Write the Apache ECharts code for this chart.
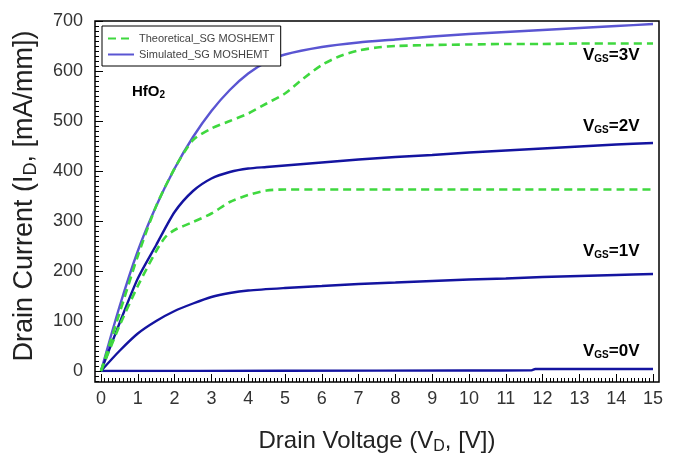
<!DOCTYPE html>
<html><head><meta charset="utf-8">
<script src="https://cdn.jsdelivr.net/npm/echarts@6/dist/echarts.min.js"></script>
<style>html,body{margin:0;padding:0;background:#fff}#c{width:675px;height:458px}</style>
</head><body><div id="c"></div>
<script>
// ---- data ----
const xTicks = [0,1,2,3,4,5,6,7,8,9,10,11,12,13,14,15];
const yTicks = [0,100,200,300,400,500,600,700];

const sim3X = [0,0.5,1,1.5,2,2.5,3,3.5,4,4.5,5,6,7,8,9,10,11,12,13,14,15];
const sim3Y = [0,128,240,330,405,468,520,562,595,618,633,648,657,663,669,674,678,682,686,690,694];

const th3X = [0,0.5,1,1.5,2,2.5,3,3.5,4,4.5,5,5.5,6,6.5,7,7.5,8,9,10,11,12,13,14,15];
const th3Y = [0,115,230,330,405,462,485,500,515,535,555,585,612,630,641,647,650,652,653,654,654,655,655,655];

const sim2X = [0,0.5,1,1.5,2,2.5,3,3.5,4,4.5,5,6,7,8,9,10,11,12,13,14,15];
const sim2Y = [0,95,185,252,318,360,385,398,405,408,411,417,423,428,432,437,441,445,449,453,456];

const th2X = [0,0.5,1,1.5,1.75,2,2.5,3,3.5,4,4.5,5,6,8,10,12,15];
const th2Y = [0,90,170,240,268,282,298,315,338,352,361,363,363,363,363,363,363];

const sim1X = [0,0.5,1,1.5,2,2.5,3,3.5,4,5,6,7,8,9,10,11,12,13,14,15];
const sim1Y = [0,40,75,100,120,135,148,156,161,166,170,174,177,180,183,185,188,190,192,194];

const sim0X = [0,5,10,11.7,11.8,15];
const sim0Y = [0,0.5,1,1.5,4,4];

const seriesNames = ['Theoretical_SG MOSHEMT','Simulated_SG MOSHEMT'];
const vgsLabels = ['3V','2V','1V','0V'];

// ---- chart ----
const pairs = (xs, ys) => xs.map((x, i) => [x, ys[i]]);
const sans = "'Liberation Sans',Arial,sans-serif";
const GREEN = '#3fd83f', PURPLE = '#5a55d2', NAVY = '#1414a0';

// frame geometry: data grid plus a few pixels of padding
const dataGrid = {left:101, right:22, top:21, bottom:87};
const frameGrid = {left:95, right:16, top:21, bottom:76};
const W = 675, H = 458;
const pxPerX = (W - dataGrid.left - dataGrid.right) / (xTicks[xTicks.length-1] - xTicks[0]);
const pxPerY = (H - dataGrid.top - dataGrid.bottom) / (yTicks[yTicks.length-1] - yTicks[0]);
// frame x axis domain is shifted so it does not cross zero (keeps the frame y axis on the left edge)
const SHIFT = 100;
const fxMin = SHIFT + xTicks[0] - (dataGrid.left - frameGrid.left) / pxPerX;
const fxMax = SHIFT + xTicks[xTicks.length-1] + (dataGrid.right - frameGrid.right) / pxPerX;
const fyMin = yTicks[0] - (dataGrid.bottom - frameGrid.bottom) / pxPerY;
const fyMax = yTicks[yTicks.length-1] + (dataGrid.top - frameGrid.top) / pxPerY;

const xMajorF = xTicks.map(v => v + SHIFT);
const xMinorF = [];
for (let i = 0; i < (xTicks.length - 1) * 10; i++) if (i % 10) xMinorF.push(SHIFT + xTicks[0] + i / 10);
const yMinor = [];
for (let v = -20; v < yTicks[yTicks.length-1]; v += 10) if (v % 100) yMinor.push(v);

function simSeries(name, xs, ys, color) {
  return {type:'line', name, data: pairs(xs, ys), xAxisIndex:0, yAxisIndex:0,
    symbol:'none', smooth:0.25, lineStyle:{color, width:2.4}, itemStyle:{color}, z:3};
}
function thSeries(name, xs, ys) {
  return {type:'line', name, data: pairs(xs, ys), xAxisIndex:0, yAxisIndex:0,
    symbol:'none', smooth:0.25, lineStyle:{color:GREEN, width:2.6, type:[8,5]}, itemStyle:{color:GREEN}, z:4};
}
function frameXAxis(values, len) {
  return {gridIndex:1, type:'value', position:'bottom', min:fxMin, max:fxMax,
    axisLine:{show:false, onZero:false}, splitLine:{show:false}, axisLabel:{show:false},
    axisTick:{show:true, inside:true, length:len, lineStyle:{color:'#000', width:1}, customValues:values}};
}
function frameYAxis(values, len) {
  return {gridIndex:1, type:'value', position:'left', min:fyMin, max:fyMax,
    axisLine:{show:false}, splitLine:{show:false}, axisLabel:{show:false},
    axisTick:{show:true, inside:true, length:len, lineStyle:{color:'#000', width:1}, customValues:values}};
}

const vgsRich = {
  v:{fontFamily:sans, fontWeight:'bold', fontSize:17, color:'#111'},
  s:{fontFamily:sans, fontWeight:'bold', fontSize:10, color:'#111', verticalAlign:'bottom', padding:[8,0,0,0]}
};
const vgsTop = [57,128,253,353];

const chart = echarts.init(document.getElementById('c'), null, {renderer:'canvas'});
chart.setOption({
  backgroundColor:'#fff',
  animation:false,
  grid:[
    Object.assign({show:false, containLabel:false, outerBoundsMode:'none'}, dataGrid),
    Object.assign({show:true, containLabel:false, outerBoundsMode:'none', borderColor:'#000', borderWidth:1.5, backgroundColor:'transparent'}, frameGrid)
  ],
  xAxis:[
    {gridIndex:0, type:'value', min:xTicks[0], max:xTicks[xTicks.length-1], interval:1, offset:11,
     axisLine:{show:false, onZero:false}, axisTick:{show:false}, splitLine:{show:false},
     axisLabel:{fontFamily:sans, fontSize:18, color:'#333', margin:8},
     name:'{a|Drain Voltage (V}{s|D}{a|, [V])}', nameLocation:'middle', nameGap:45,
     nameTextStyle:{rich:{a:{fontFamily:sans, fontSize:24, color:'#222'}, s:{fontFamily:sans, fontSize:16, color:'#222', padding:[12,0,0,0]}}}
    },
    frameXAxis(xMajorF, 8),
    frameXAxis(xMinorF, 4)
  ],
  yAxis:[
    {gridIndex:0, type:'value', min:yTicks[0], max:yTicks[yTicks.length-1], interval:100, offset:6,
     axisLine:{show:false, onZero:false}, axisTick:{show:false}, splitLine:{show:false},
     axisLabel:{fontFamily:sans, fontSize:18, color:'#333', margin:12},
     name:'{a|Drain Current (I}{s|D}{a|, [mA/mm])}', nameLocation:'middle', nameGap:55, nameRotate:90,
     nameTextStyle:{rich:{a:{fontFamily:sans, fontSize:27, color:'#222'}, s:{fontFamily:sans, fontSize:18, color:'#222', padding:[13,0,0,0]}}}
    },
    frameYAxis(yTicks, 8),
    frameYAxis(yMinor, 4)
  ],
  legend:{
    orient:'vertical', left:102, top:26, data:seriesNames,
    itemWidth:26, itemHeight:10, itemGap:5,
    padding:[7,6,6,5], borderColor:'#000', borderWidth:1, backgroundColor:'#fff',
    itemStyle:{opacity:0},
    textStyle:{fontFamily:sans, fontSize:11, color:'#444'}
  },
  graphic:[
    {type:'text', left:132, top:84, z:10, style:{
      text:'{a|HfO}{s|2}', rich:{
        a:{fontFamily:sans, fontWeight:'bold', fontSize:15, color:'#111'},
        s:{fontFamily:sans, fontWeight:'bold', fontSize:10, color:'#111', padding:[7,0,0,0]}}}}
  ].concat(vgsLabels.map((t, i) => ({
    type:'text', left:583, top:vgsTop[i]-10, z:10,
    style:{text:'{v|V}{s|GS}{v|=' + t + '}', rich:vgsRich}
  }))),
  series:[
    thSeries(seriesNames[0], th3X, th3Y),
    simSeries(seriesNames[1], sim3X, sim3Y, PURPLE),
    thSeries('Theoretical VGS=2V', th2X, th2Y),
    simSeries('Simulated VGS=2V', sim2X, sim2Y, NAVY),
    simSeries('Simulated VGS=1V', sim1X, sim1Y, NAVY),
    simSeries('Simulated VGS=0V', sim0X, sim0Y, NAVY)
  ]
});
</script>
</body></html>
